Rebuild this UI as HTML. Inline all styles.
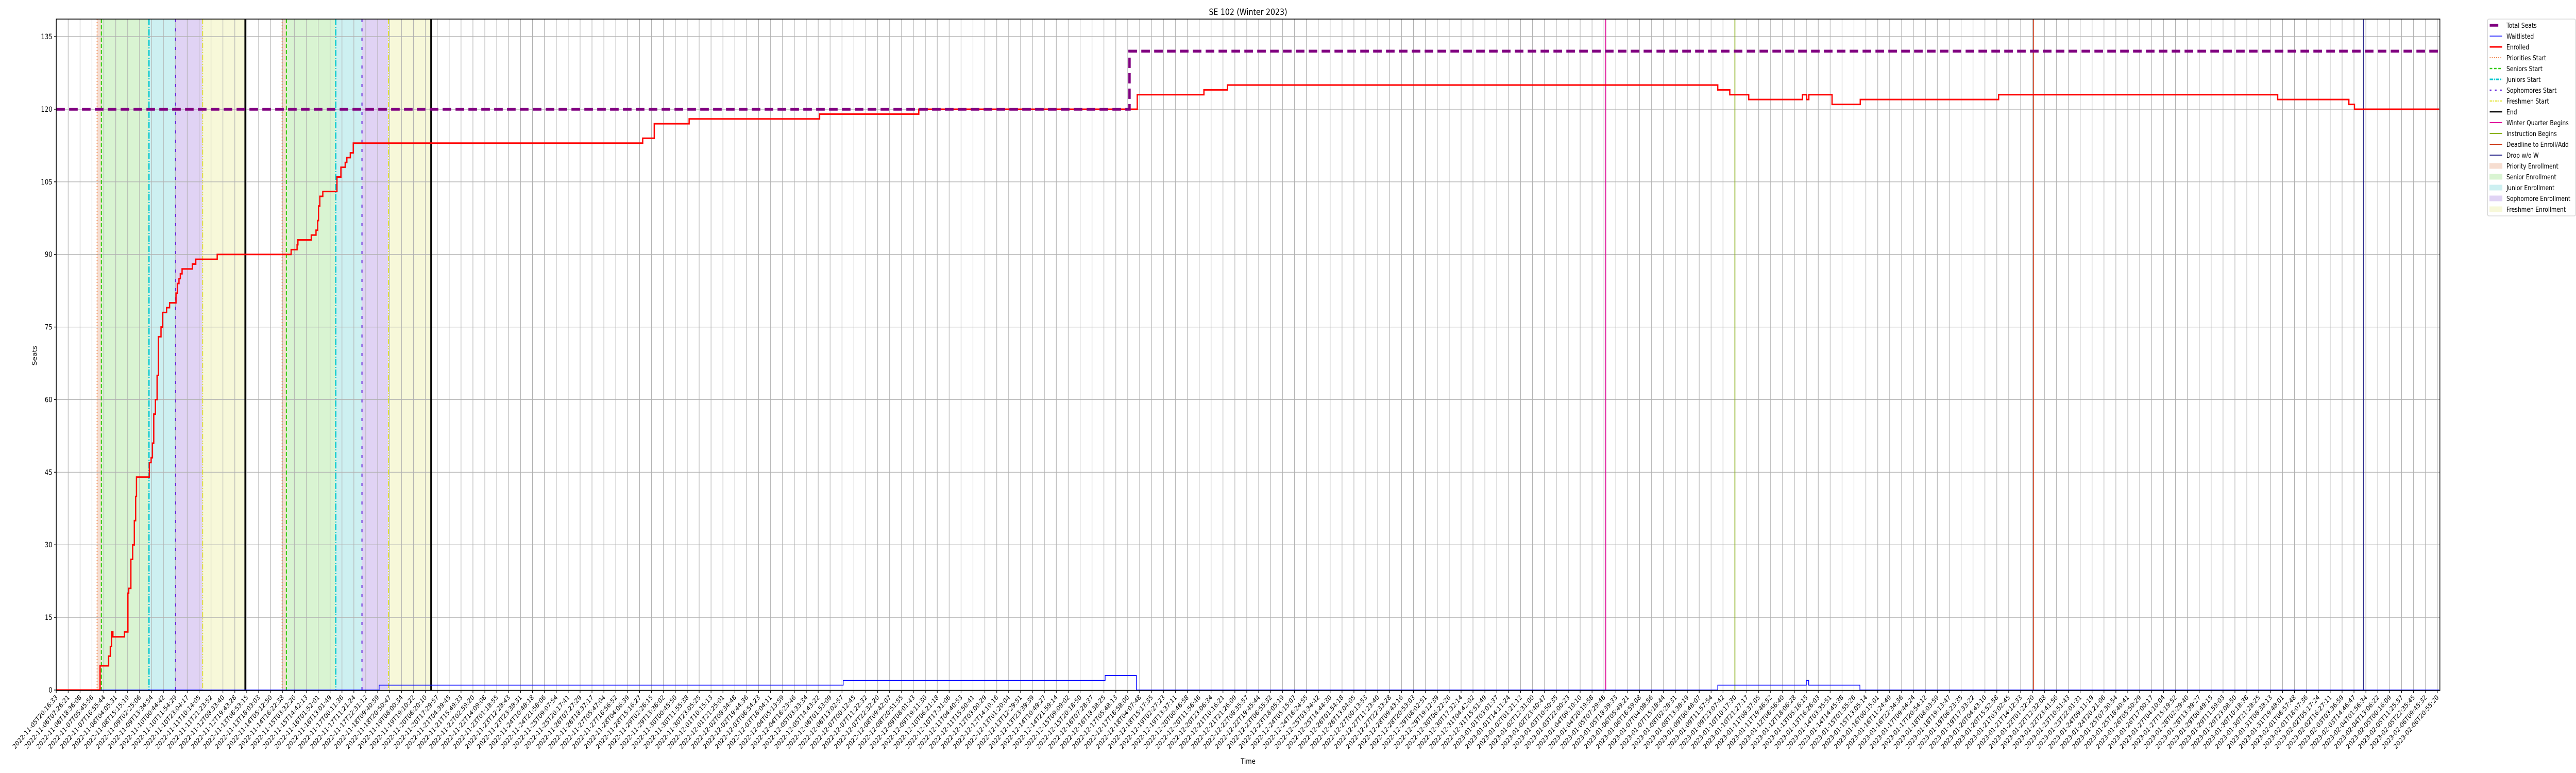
<!DOCTYPE html>
<html><head><meta charset="utf-8"><title>SE 102 (Winter 2023)</title>
<style>
html,body{margin:0;padding:0;background:#fff;overflow:hidden;width:100%;height:100%;}
svg{display:block;overflow:hidden;width:100vw;height:100vh;font-family:"DejaVu Sans","Liberation Sans",sans-serif;}
</style></head>
<body>
<svg id="chart" viewBox="0 0 6000 1500" preserveAspectRatio="none" xmlns="http://www.w3.org/2000/svg">
<rect x="0" y="0" width="6000" height="1500" fill="#fff"/>
<g id="shades"></g>
<g id="grid"></g>
<g id="events"></g>
<g id="series"></g>
<g id="axes"></g>
<text x="2907" y="29" font-size="17" text-anchor="middle">SE 102 (Winter 2023)</text>
<text x="2907" y="1482" font-size="14" text-anchor="middle">Time</text>
<text x="0" y="0" font-size="14" text-anchor="middle" transform="translate(85,690) rotate(-90)">Seats</text>
<g id="legend"></g>
</svg>
<script>
// ---- data (x in tick-index units, y in seats) ----
const enrolledX = [0,3.68,4.40,4.54,4.65,4.76,5.73,6.02,6.09,6.27,6.42,6.56,6.67,6.74,7.82,7.97,8.08,8.19,8.33,8.47,8.58,8.80,8.94,9.27,9.52,10.06,10.17,10.31,10.42,10.57,11.43,11.72,13.52,19.73,20.23,20.30,21.42,21.82,21.96,22.03,22.14,22.39,23.58,23.91,24.27,24.41,24.70,24.95,49.26,50.23,53.16,64.12,72.45,90.80,96.40,98.38,139.56,140.57,142.16,146.67,147.03,147.21,149.16,151.53,163.15,186.59,192.57,193.04];
const enrolledVals = [0,5,7,9,12,11,12,20,21,27,30,35,40,44,47,48,51,57,60,65,73,75,78,79,80,82,84,85,86,87,88,89,90,91,92,93,94,95,97,100,102,103,106,108,109,110,111,113,114,117,118,119,120,123,124,125,124,123,122,123,122,123,121,122,123,122,121,120];
const waitX = [0,27.12,66.10,88.10,90.73,139.56,147.0,147.2,151.5];
const waitVals = [0,1,2,3,0,1,2,1,0];
const seatsX = [0,90.15];
const seatsVals = [120,132];
const xEnd = 200.15;
const yTicks = [0,15,30,45,60,75,90,105,120,135];
const tickStartLabel = "2022-11-05T20:16:33";
const tickEndLabel = "2023-02-06T20:55:20";
const tickCount = 201;
const phaseStarts = [3.43,3.79,7.79,10.03,12.30,18.97,19.33,23.48,25.68,27.91];
const phaseEnds = [3.79,7.79,10.03,12.30,15.87,19.33,23.48,25.68,27.91,31.48];
const phaseKinds = ["priority","senior","junior","sophomore","freshman","priority","senior","junior","sophomore","freshman"];
const eventX = [3.43,3.79,7.79,10.03,12.30,15.87,18.97,19.33,23.48,25.68,27.91,31.48,130.15,141.0,166.07,193.80];
const eventKinds = ["priorities","seniors","juniors","sophomores","freshmen","end","priorities","seniors","juniors","sophomores","freshmen","end","winter","instruction","deadline","drop"];

const L=131, R=5683, T=37, B=1340;
function xs(i){return 131+i*27.73;}
function ys(v){return 1339-v*9.392;}
const NS="http://www.w3.org/2000/svg";
function mk(tag,attrs,parent){const e=document.createElementNS(NS,tag);for(const k in attrs)e.setAttribute(k,attrs[k]);parent.appendChild(e);return e;}

const shadeFill={priority:"#f6ddd0",senior:"#d9f4d2",junior:"#cdf0f1",sophomore:"#e0d3f4",freshman:"#f7f8d9"};
const evStyle={
 priorities:{c:"#f07838",w:2,d:"2,4"},
 seniors:{c:"#33cc11",w:2.5,d:"8,4"},
 juniors:{c:"#00c8d0",w:3,d:"12,3,2,3"},
 sophomores:{c:"#6a2bdc",w:2.5,d:"6,12"},
 freshmen:{c:"#e0e020",w:2,d:"10,3,2,3,2,3"},
 end:{c:"#000",w:3.5,d:""},
 winter:{c:"#e0129a",w:2,d:""},
 instruction:{c:"#8ab21c",w:2,d:""},
 deadline:{c:"#cc3a18",w:2,d:""},
 drop:{c:"#2c2a8c",w:2,d:""}
};

const gS=document.getElementById('shades');
for(let i=0;i<phaseStarts.length;i++){
 const r=mk('rect',{x:xs(phaseStarts[i]),y:T,width:xs(phaseEnds[i])-xs(phaseStarts[i]),height:B-T,fill:shadeFill[phaseKinds[i]]},gS);
 
 
}
const gG=document.getElementById('grid');
for(let i=0;i<tickCount;i++){
 const gl=mk('line',{x1:xs(i),x2:xs(i),y1:T,y2:B,stroke:"#b0b0b0","stroke-width":1.3},gG);
 
 
}
yTicks.forEach(v=>{
 const gl=mk('line',{x1:L,x2:R,y1:ys(v),y2:ys(v),stroke:"#b0b0b0","stroke-width":1.3},gG);
 
 
});
const gE=document.getElementById('events');
for(let i=0;i<eventX.length;i++){
 const s=evStyle[eventKinds[i]];
 const a={x1:xs(eventX[i]),x2:xs(eventX[i]),y1:T,y2:B,stroke:s.c,"stroke-width":s.w};
 if(s.d)a["stroke-dasharray"]=s.d;
 const ln=mk('line',a,gE);
 
 
}
function stepPath(X,V){
 let d="M"+xs(X[0])+","+ys(V[0]);
 for(let i=1;i<X.length;i++){d+=" H"+xs(X[i])+" V"+ys(V[i]);}
 d+=" H"+xs(xEnd);
 return d;
}
const gSe=document.getElementById('series');
const pw=mk('path',{d:stepPath(waitX,waitVals),fill:"none",stroke:"#0000ff","stroke-width":1.6},gSe);


const pe=mk('path',{d:stepPath(enrolledX,enrolledVals),fill:"none",stroke:"#ff0000","stroke-width":3},gSe);


const ps=mk('path',{d:stepPath(seatsX,seatsVals),fill:"none",stroke:"#800080","stroke-width":5.5,"stroke-dasharray":"20,10"},gSe);



const gA=document.getElementById('axes');
const fr=mk('rect',{x:L,y:T,width:R-L,height:B-T,fill:"none",stroke:"#000","stroke-width":1.6},gA);


yTicks.forEach(v=>{
 mk('line',{x1:L-5,x2:L,y1:ys(v),y2:ys(v),stroke:"#000","stroke-width":1.3},gA);
 const t=mk('text',{x:L-9,y:ys(v)+5,"font-size":14,"text-anchor":"end"},gA);
 t.textContent=v;
 
 
});
const t0=Date.parse(tickStartLabel+"Z"), t1=Date.parse(tickEndLabel+"Z");
function fmt(ms){return new Date(ms).toISOString().slice(0,19);}
for(let i=0;i<tickCount;i++){
 const x=xs(i);
 mk('line',{x1:x,x2:x,y1:B,y2:B+5,stroke:"#000","stroke-width":1.3},gA);
 const lab = i===0?tickStartLabel:(i===tickCount-1?tickEndLabel:fmt(Math.round((t0+(t1-t0)*i/(tickCount-1))/1000)*1000));
 const t=mk('text',{x:0,y:0,"font-size":13,"text-anchor":"end",transform:"translate("+(x+4)+","+(B+14)+") rotate(-45)"},gA);
 t.textContent=lab;
 
 
}

const gL=document.getElementById('legend');
const lb=mk('rect',{x:5794,y:37,width:205,height:382,rx:3,fill:"#fff",stroke:"#d0d0d0","stroke-width":1.3},gL);


const legItems=[
 ["Total Seats","line","#800080",5.5,""],
 ["Waitlisted","line","#0000ff",1.6,""],
 ["Enrolled","line","#ff0000",3,""],
 ["Priorities Start","line","#f07838",2,"2,3"],
 ["Seniors Start","line","#33cc11",2.5,"6,4"],
 ["Juniors Start","line","#00c8d0",3,"8,2,2,2"],
 ["Sophomores Start","line","#6a2bdc",2.5,"4,8"],
 ["Freshmen Start","line","#e0e020",2,"6,2,2,2"],
 ["End","line","#000",2.5,""],
 ["Winter Quarter Begins","line","#e0129a",2,""],
 ["Instruction Begins","line","#8ab21c",2,""],
 ["Deadline to Enroll/Add","line","#cc3a18",2,""],
 ["Drop w/o W","line","#2c2a8c",2,""],
 ["Priority Enrollment","patch","#f6ddd0"],
 ["Senior Enrollment","patch","#d9f4d2"],
 ["Junior Enrollment","patch","#cdf0f1"],
 ["Sophomore Enrollment","patch","#e0d3f4"],
 ["Freshmen Enrollment","patch","#f7f8d9"]
];
legItems.forEach((it,i)=>{
 const cy=49+i*21;
 const g=mk('g',{},gL);
 
 
 if(it[1]==="line"){
  const a={x1:5799,x2:5828,y1:cy,y2:cy,stroke:it[2],"stroke-width":it[3]};
  if(it[4])a["stroke-dasharray"]=it[4];
  if(i===0){a.x2=5819;}
  mk('line',a,g);
 } else {
  mk('rect',{x:5799,y:cy-5,width:29,height:10,fill:it[2],stroke:it[2]},g);
 }
 const t=mk('text',{x:5838,y:cy+5,"font-size":13},g);
 t.textContent=it[0];
});
</script>
</body></html>
